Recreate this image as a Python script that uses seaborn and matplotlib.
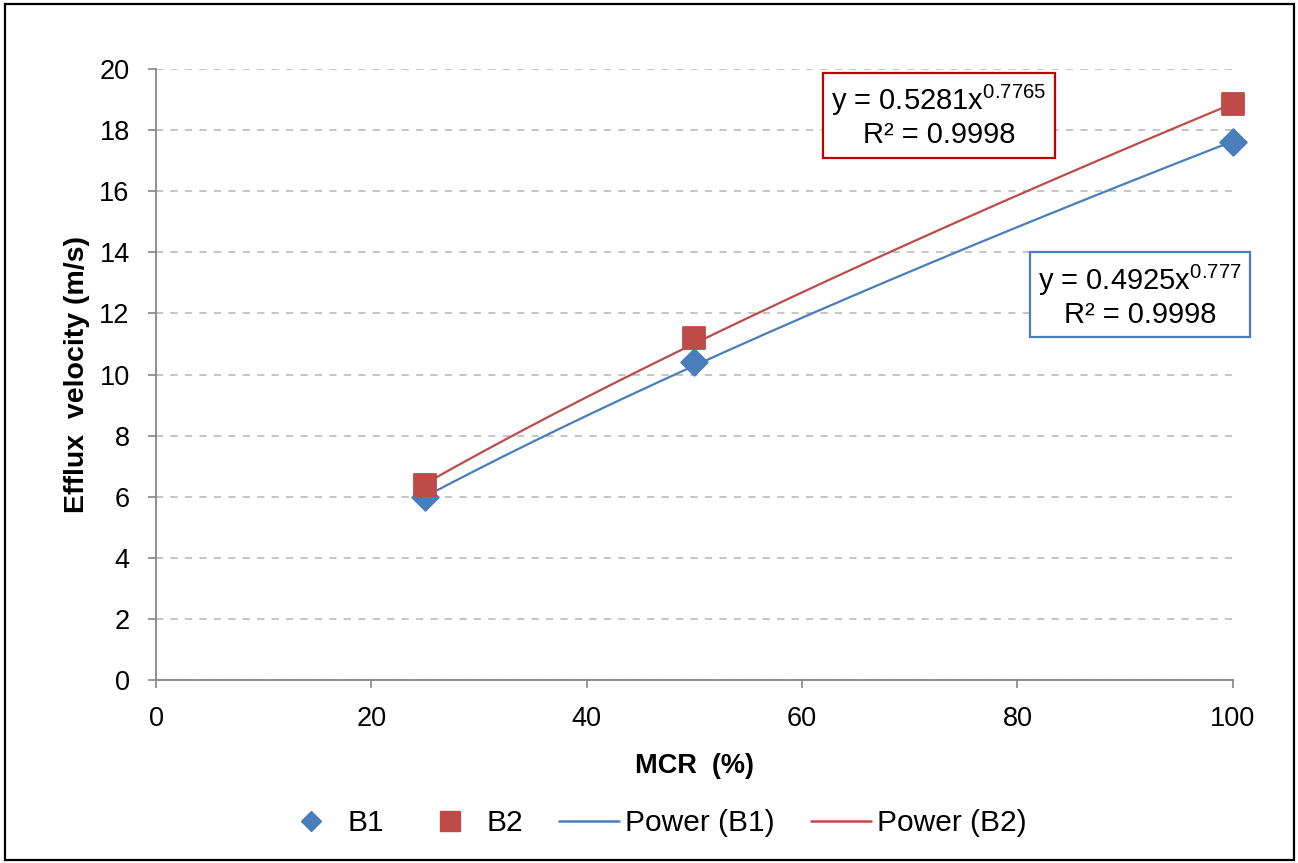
import numpy as np
import pandas as pd
import matplotlib
matplotlib.use("Agg")
import matplotlib.pyplot as plt
import seaborn as sns
from matplotlib.lines import Line2D
from matplotlib.patches import Rectangle

# Measured efflux velocity at each load
mcr = [25, 50, 100]
b1 = [6.0, 10.4, 17.6]
b2 = [6.4, 11.2, 18.85]

# Power-law trendline coefficients y = a * x^b
b1_a, b1_b = 0.4925, 0.777
b2_a, b2_b = 0.5281, 0.7765
r2_b1 = 0.9998
r2_b2 = 0.9998

x_ticks = [0, 20, 40, 60, 80, 100]
y_ticks = [0, 2, 4, 6, 8, 10, 12, 14, 16, 18, 20]

blue = "#4a7ebb"
red = "#be4b48"

sns.set_theme(style="white")
plt.rcParams["font.family"] = ["Liberation Sans", "DejaVu Sans"]
plt.rcParams["mathtext.fontset"] = "custom"
plt.rcParams["mathtext.rm"] = "Liberation Sans"
plt.rcParams["mathtext.it"] = "Liberation Sans"
plt.rcParams["text.color"] = "black"
plt.rcParams["axes.labelcolor"] = "black"

fig = plt.figure(figsize=(12.98, 8.63), dpi=100)
ax = fig.add_axes([0.1202, 0.212, 0.8296, 0.708])

# outer frame of the figure
fig.patches.append(Rectangle((0.004, 0.003), 0.993, 0.992, transform=fig.transFigure,
                             fill=False, edgecolor="black", linewidth=1.6))

# trendlines
xs = np.linspace(mcr[0], mcr[-1], 200)
trend = pd.DataFrame({
    "x": np.concatenate([xs, xs]),
    "y": np.concatenate([b1_a * xs ** b1_b, b2_a * xs ** b2_b]),
    "s": ["Power (B1)"] * len(xs) + ["Power (B2)"] * len(xs),
})
sns.lineplot(data=trend, x="x", y="y", hue="s", palette=[blue, red], ax=ax,
             linewidth=1.6, legend=False, zorder=3)

pts = pd.DataFrame({"x": mcr * 2, "y": b1 + b2, "s": ["B1"] * 3 + ["B2"] * 3})
sns.scatterplot(data=pts[pts.s == "B1"], x="x", y="y", marker="D", s=190,
                color=blue, edgecolor=blue, ax=ax, legend=False, zorder=4, clip_on=False)
sns.scatterplot(data=pts[pts.s == "B2"], x="x", y="y", marker="s", s=265,
                color=red, edgecolor=red, ax=ax, legend=False, zorder=4, clip_on=False)

ax.set_xlim(0, 100)
ax.set_ylim(0, 20)
ax.set_xticks(x_ticks)
ax.set_yticks(y_ticks)
ax.tick_params(axis="both", labelsize=19.5, colors="#868686", length=6, width=1.2,
               direction="out", left=True, bottom=True, labelcolor="black", pad=13)
ax.yaxis.grid(True, linestyle=(0, (4, 4)), color="#c0c0c0", linewidth=1.3)
ax.xaxis.grid(False)
for side in ["top", "right"]:
    ax.spines[side].set_visible(False)
for side in ["left", "bottom"]:
    ax.spines[side].set_color("#868686")
    ax.spines[side].set_linewidth(1.3)

ax.set_xlabel("MCR  (%)", fontsize=19.5, fontweight="bold", labelpad=15)
ax.set_ylabel("Efflux  velocity (m/s)", fontsize=20.5, fontweight="bold", labelpad=7)

# trendline equations
ax.text(0.727, 0.923, f"y = {b2_a}x$^{{{b2_b}}}$\nR² = {r2_b2}", transform=ax.transAxes,
        ha="center", va="center", fontsize=21, linespacing=1.15,
        bbox=dict(boxstyle="square,pad=0.28", facecolor="white", edgecolor="#c00000", linewidth=1.6))
ax.text(0.9136, 0.629, f"y = {b1_a}x$^{{{b1_b}}}$\nR² = {r2_b1}", transform=ax.transAxes,
        ha="center", va="center", fontsize=21, linespacing=1.15,
        bbox=dict(boxstyle="square,pad=0.28", facecolor="white", edgecolor=blue, linewidth=1.6))

handles = [
    Line2D([], [], marker="D", color=blue, linestyle="none", markersize=9.8),
    Line2D([], [], marker="s", color=red, linestyle="none", markersize=15),
    Line2D([], [], color=blue, linewidth=1.8),
    Line2D([], [], color=red, linewidth=1.8),
]
fig.legend(handles, ["B1", "B2", "Power (B1)", "Power (B2)"], loc="center",
           bbox_to_anchor=(0.504, 0.046), ncol=4, frameon=False, fontsize=21.5,
           handlelength=2.0, columnspacing=1.2, handletextpad=0.22, borderpad=0.2)

fig.savefig("out.png", dpi=100, facecolor="white")
